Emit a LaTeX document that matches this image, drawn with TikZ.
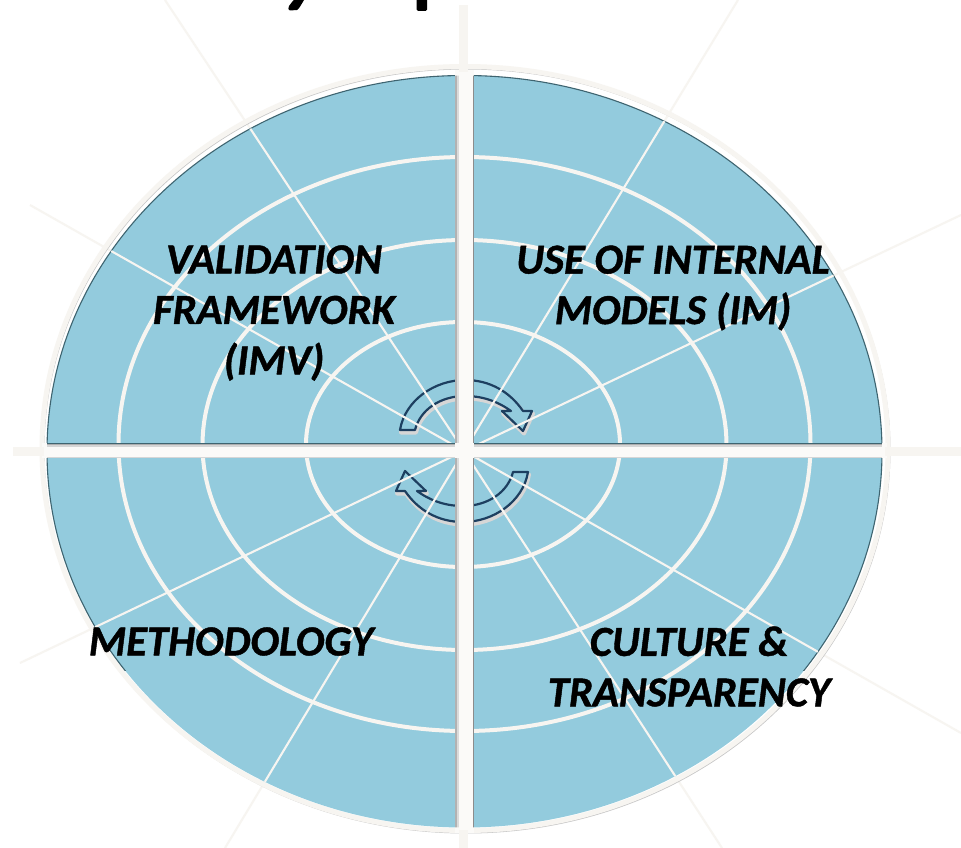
\documentclass[tikz,border=0pt]{standalone}
\usepackage{fontspec}
\setmainfont{Carlito}[BoldItalicFeatures={FakeBold=1}]
\definecolor{discblue}{HTML}{93CBDD}
\definecolor{ringwhite}{HTML}{F7F5F1}
\definecolor{gapwhite}{HTML}{FBFAF8}
\definecolor{edgedark}{HTML}{3E6470}
\definecolor{arrowdark}{HTML}{1D3F60}
\tikzset{
  x=1pt,y=-1pt,
  quadfill/.style={fill=discblue},
  quadedge/.style={draw=edgedark,line width=1.1pt},
  ringline/.style={draw=ringwhite,line width=4pt},
  spokeline/.style={draw=ringwhite,line width=2.1pt},
  cyclearrow/.style={fill=discblue,draw=arrowdark,line width=2.2pt,line join=round},
  arrowglow/.style={draw=black!16,line width=4pt,line join=round},
  label/.style={font=\fontsize{42.7}{50.5}\selectfont\bfseries\itshape,align=center,text=black,inner sep=0pt}
}
\newcommand{\cyclepath}{(400,430) .. controls (405,400) and (435,380) .. (465,380) .. controls (490,380) and (510,392) .. (523,411) -- (532,411) -- (523,431) -- (502,411) -- (511,411) .. controls (500,403) and (485,396) .. (465,396) .. controls (440,396) and (420,410) .. (415,430) -- cycle}
\begin{document}
\begin{tikzpicture}
\useasboundingbox (0,0) rectangle (961,848);
\fill[white] (0,0) rectangle (961,848);
% title remnants
\fill[black] (289,6) .. controls (291,4) and (293,0) .. (294,0) -- (304,0) .. controls (301,5) and (299,9) .. (297,10) -- (290,10.5) .. controls (288,10.5) and (288,8) .. (289,6) -- cycle;
\begin{scope}
\clip (0,0) rectangle (961,848);
\fill[black,rounded corners=1.5pt] (416.5,-5) rectangle (427,11);
\end{scope}
\coordinate (hub) at (464,451);
% faint outer spokes, from the hub to their far ends
\draw[spokeline] (hub) -- (165,0);
\draw[spokeline] (hub) -- (30,205);
\draw[spokeline] (hub) -- (738,0);
\draw[spokeline] (hub) -- (961,215);
\draw[spokeline] (hub) -- (20,663);
\draw[spokeline] (hub) -- (225,848);
\draw[spokeline] (hub) -- (961,733);
\draw[spokeline] (hub) -- (722,848);
% outer ring
\draw[draw=black!22,line width=3pt] (466,450) ellipse [x radius=423,y radius=382];
\draw[draw=ringwhite,line width=5pt] (465,448.5) ellipse [x radius=423,y radius=382];
% disc
\path[quadfill] (464.5,451.5) ellipse [x radius=417.5,y radius=376];
\begin{scope}
\clip (0,0) rectangle (961,670);
\path[quadedge] (464.5,451.5) ellipse [x radius=417.5,y radius=376];
\end{scope}
% rings
\draw[ringline] (464.5,444) ellipse [x radius=346,y radius=287];
\draw[ringline] (464.5,445) ellipse [x radius=262,y radius=205];
\draw[ringline] (463,444.5) ellipse [x radius=157,y radius=122.5];
% cycle arrows
\begin{scope}[shift={(1,2.5)}]
\draw[arrowglow] \cyclepath;
\end{scope}
\path[cyclearrow] \cyclepath;
\begin{scope}[shift={(928,902)},xscale=-1,yscale=-1]
\begin{scope}[shift={(-1,-2.5)}]
\draw[arrowglow] \cyclepath;
\end{scope}
\path[cyclearrow] \cyclepath;
\end{scope}
% spokes on the disc
\begin{scope}
\clip (464.5,451.5) ellipse [x radius=417.5,y radius=376];
\draw[spokeline] (hub) -- (165,0);
\draw[spokeline] (hub) -- (30,205);
\draw[spokeline] (hub) -- (738,0);
\draw[spokeline] (hub) -- (961,215);
\draw[spokeline] (hub) -- (20,663);
\draw[spokeline] (hub) -- (225,848);
\draw[spokeline] (hub) -- (961,733);
\draw[spokeline] (hub) -- (722,848);
\end{scope}
% gaps of the cross and their soft shadows
\fill[gapwhite] (455,70) rectangle (474,833);
\fill[gapwhite] (42,443) rectangle (887,458);
\begin{scope}
\clip (464.5,451.5) ellipse [x radius=417.5,y radius=376];
\fill[edgedark] (47,442.5) rectangle (455,443.5);
\fill[edgedark] (474,442.5) rectangle (882,443.5);
\fill[black!32] (47,443.5) rectangle (455,445);
\fill[black!32] (474,443.5) rectangle (882,445);
\fill[black!16] (47,445) rectangle (455,447);
\fill[black!16] (474,445) rectangle (882,447);
\fill[black!16] (47,456.5) rectangle (455,458);
\fill[black!16] (474,456.5) rectangle (882,458);
\fill[black!30] (455,75) rectangle (456.5,442.5);
\fill[black!30] (455,458) rectangle (456.5,828);
\fill[black!14] (456.5,75) rectangle (458.5,442.5);
\fill[black!14] (456.5,458) rectangle (458.5,828);
\fill[black!45] (472.8,75) rectangle (474,442.5);
\fill[black!45] (472.8,458) rectangle (474,828);
\end{scope}
% cross bars outside the disc
\fill[ringwhite] (459,5) rectangle (468,72);
\fill[ringwhite] (459,830) rectangle (468,848);
\fill[ringwhite] (13,447) rectangle (44,456);
\fill[ringwhite] (885,447) rectangle (961,456);
% labels
\node[label] (validation) at (274,313) {VALIDATION\\FRAMEWORK\\(IMV)};
\node[label] (internal) at (673,288) {USE OF INTERNAL\\MODELS (IM)};
\node[label] (method) at (231,641.5) {METHODOLOGY};
\node[label] (culture) at (689,666.5) {CULTURE \&\\TRANSPARENCY};
\end{tikzpicture}
\end{document}
